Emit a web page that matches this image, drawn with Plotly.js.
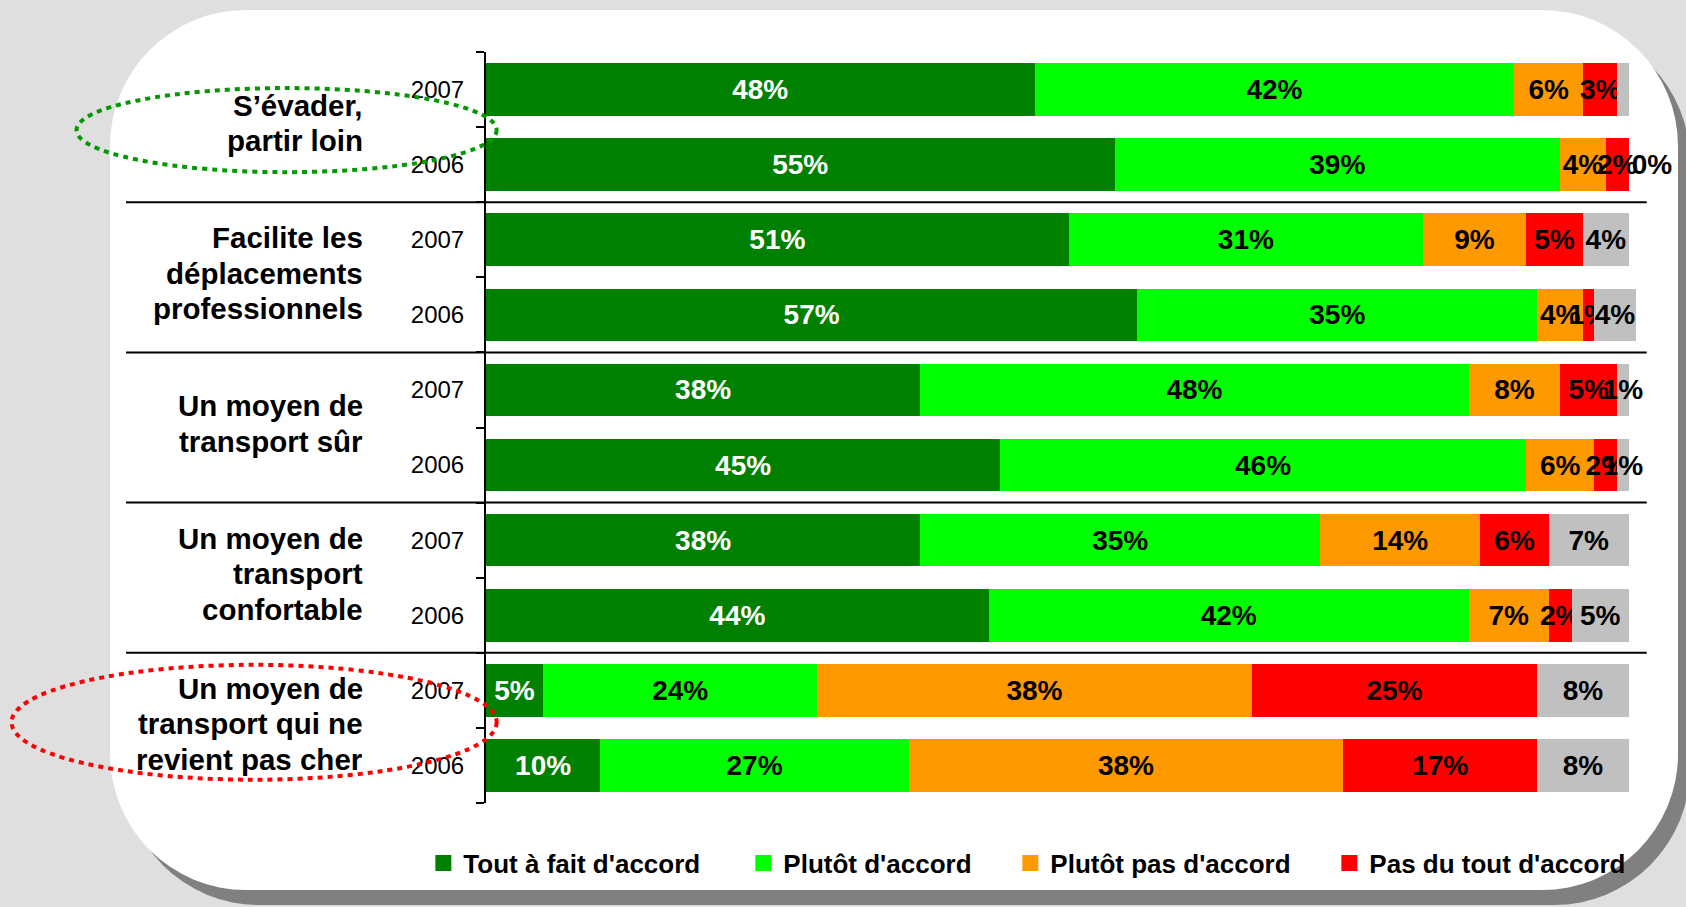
<!DOCTYPE html>
<html>
<head>
<meta charset="utf-8">
<script src="https://cdn.plot.ly/plotly-3.0.1.min.js"></script>
<style>
  html, body { margin:0; padding:0; width:1686px; height:907px; overflow:hidden; background:#DFDFDF; }
  #shadow { position:absolute; left:123px; top:25px; width:1567px; height:880px; border-radius:136px; background:#808080; }
  #panel { position:absolute; left:110px; top:10px; width:1568px; height:880px; border-radius:136px; background:#FFFFFF; }
  #chart { position:absolute; left:0; top:0; width:1686px; height:907px; }
</style>
</head>
<body>
<div id="shadow"></div>
<div id="panel"></div>
<div id="chart"></div>
<script>
// ---- Data ----
const groups = [
  ["S’évader,", "partir loin"],
  ["Facilite les", "déplacements", "professionnels"],
  ["Un moyen de", "transport sûr"],
  ["Un moyen de", "transport", "confortable"],
  ["Un moyen de", "transport qui ne", "revient pas cher"]
];
const years = ["2007","2006","2007","2006","2007","2006","2007","2006","2007","2006"];
const seriesNames = ["Tout à fait d'accord","Plutôt d'accord","Plutôt pas d'accord","Pas du tout d'accord"];
const toutAFait = [48, 55, 51, 57, 38, 45, 38, 44, 5, 10];
const plutot    = [42, 39, 31, 35, 48, 46, 35, 42, 24, 27];
const plutotPas = [6, 4, 9, 4, 8, 6, 14, 7, 38, 38];
const pasDuTout = [3, 2, 5, 1, 5, 2, 6, 2, 25, 17];
const nsp       = [1, 0, 4, 3.6, 1, 1, 7, 5, 8, 8];
const nspLabels = ["", "0%", "4%", "4%", "1%", "1%", "7%", "5%", "8%", "8%"];

// ---- Styles ----
const colors = ["#008000", "#00FF00", "#FF9900", "#FF0000", "#C0C0C0"];
const labelColors = ["#FFFFFF", "#000000", "#000000", "#000000", "#000000"];
const legendWidths = [275, 222, 274, 260];
const FONT = '"Liberation Sans", Arial, sans-serif';
const GROUP_FONT = 29.5;
const GROUP_LINE = 35.5;

// ---- Build ----
const idx = years.map((_, i) => i);
const bounds = [];
for (let i = 0; i <= years.length; i++) bounds.push(i - 0.5);
const seriesVals = [toutAFait, plutot, plutotPas, pasDuTout, nsp];

const traces = seriesVals.map((vals, s) => ({
  type: 'bar',
  orientation: 'h',
  x: vals,
  y: idx,
  marker: { color: colors[s], line: { width: 0 } },
  text: s === 4 ? nspLabels : vals.map(v => v + '%'),
  textposition: s === 4 ? vals.map(v => v > 0 ? 'inside' : 'outside') : 'inside',
  insidetextanchor: 'middle',
  textangle: 0,
  constraintext: 'none',
  cliponaxis: false,
  textfont: { family: FONT, size: 28, weight: 'bold', color: labelColors[s] },
  outsidetextfont: { family: FONT, size: 28, weight: 'bold', color: '#000' },
  showlegend: false,
  hoverinfo: 'skip'
}));

seriesNames.forEach((n, s) => {
  traces.push({
    type: 'scatter', mode: 'markers', x: [null], y: [null], name: n,
    legendwidth: legendWidths[s],
    marker: { symbol: 'square', size: 16, color: colors[s], line: { width: 0 } },
    hoverinfo: 'skip'
  });
});

const shapes = [];
for (let g = 1; g < groups.length; g++) {
  shapes.push({
    type: 'line', xref: 'paper', yref: 'y',
    x0: -0.3103, x1: 1.0006, y0: 2 * g - 0.5, y1: 2 * g - 0.5,
    line: { color: '#000000', width: 2 }
  });
}
shapes.push({
  type: 'circle', xref: 'paper', yref: 'y',
  x0: -0.353, x1: 0.0092, y0: -0.02, y1: 1.10,
  line: { color: '#009900', width: 4, dash: '5px,5px' }
});
shapes.push({
  type: 'circle', xref: 'paper', yref: 'y',
  x0: -0.409, x1: 0.0092, y0: 7.66, y1: 9.19,
  line: { color: '#FF0000', width: 4, dash: '5px,5px' }
});

const annotations = [];
groups.forEach((lines, i) => {
  lines.forEach((line, k) => {
    annotations.push({
      xref: 'paper', yref: 'y', x: -0.1043, y: 2 * i + 0.5,
      xanchor: 'right', yanchor: 'middle', align: 'right',
      text: line, showarrow: false,
      yshift: 4 - (k - (lines.length - 1) / 2) * GROUP_LINE,
      font: { family: FONT, size: GROUP_FONT, weight: 'bold', color: '#000' }
    });
  });
});

const layout = {
  width: 1686, height: 907,
  margin: { l: 486, r: 40, t: 52, b: 104, pad: 0 },
  paper_bgcolor: 'rgba(0,0,0,0)',
  plot_bgcolor: 'rgba(0,0,0,0)',
  barmode: 'stack',
  bargap: 0.3,
  hovermode: false,
  font: { family: FONT, color: '#000' },
  xaxis: { range: [0, 101.51], visible: false, fixedrange: true },
  yaxis: {
    range: [9.5, -0.5], tickmode: 'array', tickvals: idx, ticktext: years,
    ticks: '', showline: true, linecolor: '#000', linewidth: 2,
    showgrid: false, zeroline: false, tickfont: { family: FONT, size: 24, color: '#000' },
    ticklabelstandoff: 15, fixedrange: true,
    minor: { tickmode: 'array', tickvals: bounds, ticks: 'outside', ticklen: 8, tickwidth: 2, tickcolor: '#000', showgrid: false }
  },
  showlegend: true,
  legend: {
    orientation: 'h', traceorder: 'normal', x: -0.054, xanchor: 'left', y: -0.08, yanchor: 'middle',
    bgcolor: 'rgba(0,0,0,0)', borderwidth: 0,
    font: { family: FONT, size: 26, weight: 'bold', color: '#000' }
  },
  shapes: shapes,
  annotations: annotations
};

Plotly.newPlot('chart', traces, layout, { displayModeBar: false, staticPlot: true });
</script>
</body>
</html>
